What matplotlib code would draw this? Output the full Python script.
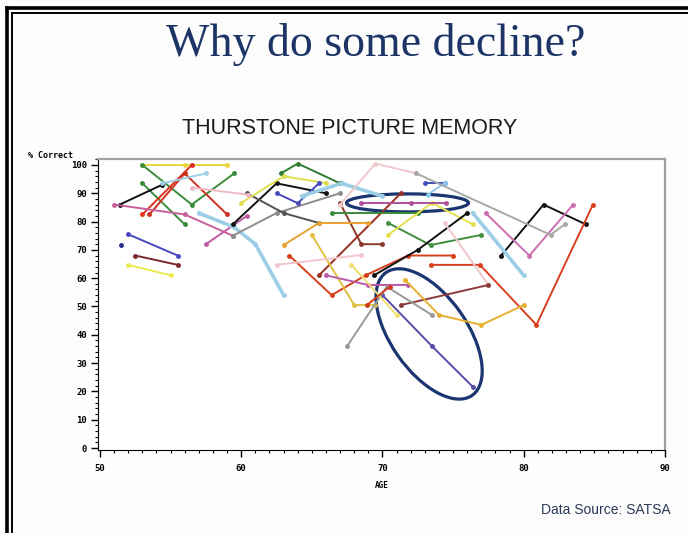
import matplotlib
matplotlib.use('Agg')
import matplotlib.pyplot as plt
import matplotlib.transforms as mtransforms
from matplotlib.lines import Line2D
from matplotlib.patches import Ellipse
from matplotlib.ticker import MultipleLocator

# one entry per subject: ages, scores, colour
ages = [
    [53, 56, 59], [53, 56.5, 59.5], [53, 56], [53, 56.5], [53.5, 56, 59],
    [51.4, 54.4], [54.4, 57.5], [51, 56, 59.4], [51.5], [52, 55.5],
    [52.5, 55.5], [52, 55], [57.5, 60.4], [57, 59.5, 61, 63], [59.4, 62.5, 66],
    [59.4, 62.5, 67], [60.4, 63, 65.5], [62.8, 64, 67], [60, 63, 66], [62.5, 64, 65.5],
    [64.3, 67.1, 70], [67, 68.5, 70], [65.5, 71.3], [63.4, 66.4, 68.8, 71.8, 75],
    [63, 65.5, 69], [65, 68, 69.5], [66.4, 72.5], [70.4, 73.4, 77], [70.4, 73.5, 76.4],
    [68.5, 72, 74.5], [73, 74.4], [69.4, 72.5, 76], [66, 69, 71.8], [78.4, 81.4, 84.4],
    [77.3, 80.4, 83.5], [73.4, 76.9, 80.9, 84.9], [76.4, 80], [74.4, 77.5], [71.3, 77.5],
    [70, 73.5, 76.4], [67.5, 70.3, 73.5], [71.6, 74, 77, 80], [67.8, 71], [68.9, 70.5],
    [62.5, 68.5], [73.2, 74.4], [56.5, 60.5], [67, 69.5, 72.4], [72.4, 81.9, 82.9],
]
scores = [
    [100, 100, 100], [100, 86, 97], [93.5, 79], [82.5, 100], [82.5, 97, 82.5],
    [86, 93], [93.5, 97], [86, 82.5, 75], [71.7], [75.5, 68],
    [68, 64.7], [64.7, 61], [72, 82], [83, 78, 72, 54], [79, 93.5, 90],
    [75, 83, 90], [90, 83, 79.5], [97, 100.5, 93.5], [86.6, 96, 93.6], [90, 86.5, 93.5],
    [89, 93.5, 89], [86.5, 72, 72], [61, 90], [68, 54, 61, 68, 68],
    [71.7, 79.5, 79.5], [75.3, 50.5, 50.5], [83, 83], [79.5, 71.7, 75.3], [75.3, 86.6, 79],
    [86.6, 86.6, 86.6], [93.5, 93.5], [61, 70, 83], [61, 57.6, 57.6], [68, 86, 79],
    [83, 68, 86], [64.7, 64.7, 43.5, 86], [83, 61], [79.5, 57.6], [50.5, 57.6],
    [54, 36, 21.6], [36, 57, 47], [59.4, 47, 43.5, 50.5], [64.7, 47], [50.5, 57],
    [64.7, 68.2], [89.5, 93.6], [92, 89.5], [86, 100.5, 97], [97, 75.3, 79],
]
colors = [
    '#e8d640', '#3c8c3c', '#3c8c3c', '#e0301e', '#d03020',
    '#111111', '#9fd0ea', '#c8609a', '#2a2a90', '#4848c0',
    '#7a2a2a', '#ecec50', '#c05aa0', '#9ccfe6', '#111111',
    '#8c8c8c', '#505050', '#2e7d32', '#dede50', '#4a4ac0',
    '#9ccfe6', '#8b3a2a', '#9a3020', '#d8401c',
    '#e8a030', '#e0c040', '#3a8a3a', '#3f8f3f', '#e6e050',
    '#b0509a', '#4050c0', '#111111', '#b85aa8', '#111111',
    '#cc6fb0', '#d84020', '#9ccfe6', '#f0c8cc', '#8a3a3a',
    '#5a4aa8', '#9a9a9a', '#e8b030', '#eee070', '#d03a1a',
    '#f4c4d0', '#8ec8ec', '#f0b8c8', '#f0c8cc', '#a8a8a8',
]

fig = plt.figure(figsize=(6.88, 5.33), dpi=100)
fig.patch.set_facecolor('#fdfdfd')

ax = fig.add_axes([98 / 688, 1 - 450 / 533, 567 / 688, 291 / 533])
for xs, ys, c in zip(ages, scores, colors):
    lw = 2.6 if c == '#9ccfe6' else 1.4
    ax.plot(xs, ys, color=c, lw=lw, marker='o', ms=2.5, mec=c, mfc=c)

ax.set_xlim(49.86, 89.93)
ax.set_ylim(-0.7, 102.1)
ax.set_xticks(range(50, 91, 10))
ax.set_yticks(range(0, 101, 10))
ax.xaxis.set_minor_locator(MultipleLocator(1))
ax.yaxis.set_minor_locator(MultipleLocator(2))
ax.tick_params(which='major', length=5, width=1, labelsize=6.5)
ax.tick_params(which='minor', length=2.5, width=0.8)
ax.tick_params(axis='x', pad=5)
ax.tick_params(axis='y', pad=3)
for lab in ax.get_xticklabels() + ax.get_yticklabels():
    lab.set_family('DejaVu Sans Mono')
    lab.set_weight('bold')
for s in ['left', 'bottom']:
    ax.spines[s].set_color('black')
for s in ['top', 'right']:
    ax.spines[s].set_color('#a0a0a0')
    ax.spines[s].set_linewidth(1.6)

# highlight ellipses, sized in inches around a data point
for (cx, cy), w, h, ang in [((71.77, 86.6), 1.22, 0.18, 0),
                             ((73.3, 40.3), 1.5, 0.76, -55)]:
    tr = fig.dpi_scale_trans + mtransforms.ScaledTranslation(cx, cy, ax.transData)
    ax.add_patch(Ellipse((0, 0), w, h, angle=ang, transform=tr, fill=False,
                         ec='#1a3570', lw=2.3, clip_on=False))

fig.text(28 / 688, 1 - 156 / 533, '% Correct', family='DejaVu Sans Mono',
         weight='bold', size=6, ha='left', va='center')
fig.text(382 / 688, 1 - 486 / 533, 'AGE', family='DejaVu Sans Mono',
         weight='bold', size=5.5, ha='center', va='center')

fig.text(376 / 688, 1 - 45 / 533, 'Why do some decline?', family='Liberation Serif',
         size=33, color='#1c3566', ha='center', va='center')
fig.text(350 / 688, 1 - 129 / 533, 'THURSTONE PICTURE MEMORY', family='Liberation Sans',
         size=15.5, color='#1a1a1a', ha='center', va='center')
fig.text(606 / 688, 1 - 510 / 533, 'Data Source: SATSA', family='Liberation Sans',
         size=10, color='#2a3a5a', ha='center', va='center')

# slide border
for x, y, lw in [(7, 8, 2.6), (12, 13, 1.4)]:
    fig.add_artist(Line2D([x / 688, x / 688], [0, 1 - y / 533], color='black', lw=lw))
    fig.add_artist(Line2D([x / 688, 1], [1 - y / 533, 1 - y / 533], color='black', lw=lw))

fig.savefig('out.png', dpi=100, facecolor=fig.get_facecolor())
